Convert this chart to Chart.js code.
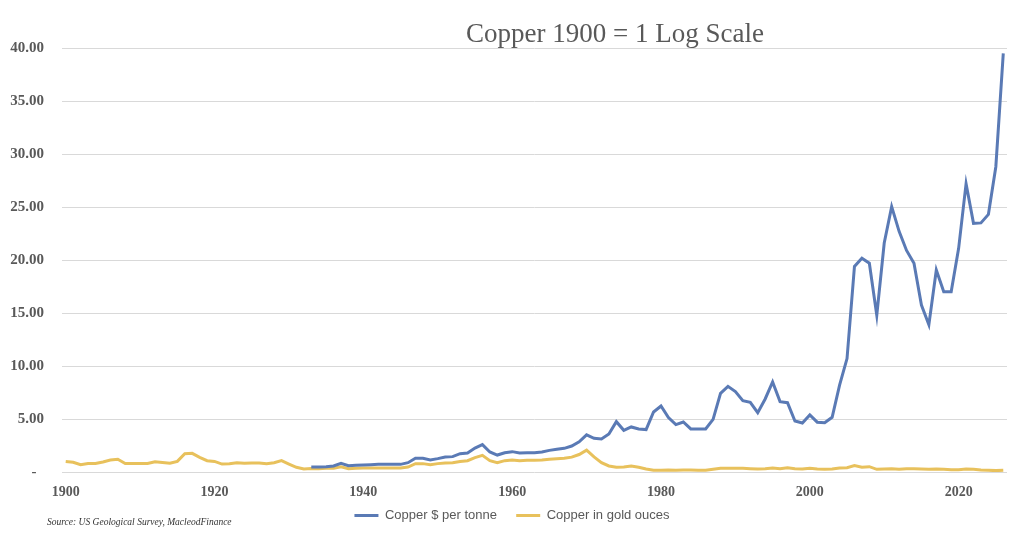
<!DOCTYPE html>
<html>
<head>
<meta charset="utf-8">
<script src="https://cdn.jsdelivr.net/npm/chart.js@4"></script>
<style>
  html, body { margin: 0; padding: 0; background: #ffffff; }
  #wrap { width: 1024px; height: 537px; position: relative; }
</style>
</head>
<body>
<div id="wrap"><canvas id="c" width="1024" height="537"></canvas></div>
<script>
// ---- Data ----
const titleText = "Copper 1900 = 1 Log Scale";
const sourceText = "Source: US Geological Survey, MacleodFinance";
const seriesNames = ["Copper $ per tonne", "Copper in gold ouces"];

const firstYear = 1900;
const lastYear = 2026;
const years = [];
for (let y = firstYear; y <= lastYear; y++) years.push(String(y));

const yTicks = [0, 5, 10, 15, 20, 25, 30, 35, 40];

// Copper $ per tonne (1900 = 1), no data before 1933
const copperUsd = [
  null, null, null, null, null, null, null, null, null, null,   // 1900s
  null, null, null, null, null, null, null, null, null, null,   // 1910s
  null, null, null, null, null, null, null, null, null, null,   // 1920s
  null, null, null, 0.47, 0.47, 0.50, 0.57, 0.82, 0.60, 0.63,   // 1930s
  0.66, 0.69, 0.72, 0.72, 0.72, 0.72, 0.88, 1.29, 1.29, 1.13,   // 1940s
  1.26, 1.42, 1.45, 1.73, 1.79, 2.26, 2.58, 1.89, 1.60, 1.82,   // 1950s
  1.92, 1.79, 1.82, 1.82, 1.89, 2.04, 2.14, 2.23, 2.45, 2.85,   // 1960s
  3.50, 3.18, 3.11, 3.58, 4.75, 3.93, 4.25, 4.06, 4.00, 5.66,   // 1970s
  6.23, 5.13, 4.47, 4.72, 4.06, 4.06, 4.06, 4.97, 7.42, 8.08,   // 1980s
  7.58, 6.73, 6.57, 5.60, 6.89, 8.49, 6.64, 6.54, 4.81, 4.62,   // 1990s
  5.38, 4.70, 4.65, 5.16, 8.20, 10.70, 19.40, 20.16, 19.70, 14.80, // 2000s
  21.60, 25.03, 22.70, 20.90, 19.70, 15.75, 13.90, 19.06, 17.00, 17.00, // 2010s
  21.10, 27.20, 23.46, 23.50, 24.30, 28.80, 39.50               // 2020s
];

// Copper priced in gold ounces (1900 = 1)
const copperGold = [
  1.00, 0.92, 0.68, 0.80, 0.80, 0.95, 1.13, 1.20, 0.80, 0.80,   // 1900s
  0.80, 0.80, 0.97, 0.90, 0.82, 1.00, 1.73, 1.76, 1.38, 1.07,   // 1910s
  1.00, 0.75, 0.78, 0.88, 0.82, 0.85, 0.85, 0.78, 0.88, 1.07,   // 1920s
  0.75, 0.44, 0.28, 0.32, 0.31, 0.35, 0.35, 0.50, 0.31, 0.35,   // 1930s
  0.38, 0.38, 0.38, 0.38, 0.38, 0.38, 0.47, 0.79, 0.79, 0.69,   // 1940s
  0.79, 0.85, 0.88, 1.00, 1.07, 1.35, 1.57, 1.07, 0.88, 1.07,   // 1950s
  1.13, 1.07, 1.10, 1.10, 1.13, 1.20, 1.26, 1.29, 1.40, 1.65,   // 1960s
  2.06, 1.42, 0.88, 0.57, 0.44, 0.47, 0.57, 0.44, 0.28, 0.16,   // 1970s
  0.16, 0.19, 0.16, 0.19, 0.19, 0.16, 0.16, 0.25, 0.35, 0.35,   // 1980s
  0.35, 0.35, 0.31, 0.28, 0.31, 0.38, 0.31, 0.41, 0.31, 0.28,   // 1990s
  0.35, 0.28, 0.25, 0.28, 0.38, 0.41, 0.60, 0.44, 0.50, 0.25,   // 2000s
  0.28, 0.31, 0.25, 0.31, 0.31, 0.28, 0.25, 0.28, 0.25, 0.22,   // 2010s
  0.22, 0.28, 0.25, 0.19, 0.16, 0.13, 0.16                      // 2020s
];

// ---- Styles ----
const blue = "#5A7AB5";
const gold = "#E8C15C";
const textGray = "#595959";
const gridGray = "#D9D9D9";

const overlayText = {
  id: "overlayText",
  afterDraw(chart) {
    const ctx = chart.ctx;
    ctx.save();
    ctx.fillStyle = textGray;
    ctx.font = "27px 'Liberation Serif', 'DejaVu Serif', serif";
    ctx.textAlign = "center";
    ctx.textBaseline = "alphabetic";
    ctx.fillText(titleText, 615, 42);
    ctx.fillStyle = "#333333";
    ctx.font = "italic 9.5px 'Liberation Serif', 'DejaVu Serif', serif";
    ctx.textAlign = "left";
    ctx.textBaseline = "middle";
    ctx.fillText(sourceText, 47, 522);
    ctx.restore();
  }
};

new Chart(document.getElementById("c"), {
  type: "line",
  data: {
    labels: years,
    datasets: [
      {
        label: seriesNames[0],
        data: copperUsd,
        borderColor: blue,
        backgroundColor: blue,
        borderWidth: 3,
        pointRadius: 0,
        tension: 0,
        fill: false
      },
      {
        label: seriesNames[1],
        data: copperGold,
        borderColor: gold,
        backgroundColor: gold,
        borderWidth: 3,
        pointRadius: 0,
        tension: 0,
        fill: false
      }
    ]
  },
  options: {
    responsive: false,
    animation: false,
    devicePixelRatio: 1,
    layout: { padding: { top: 48, right: 0, bottom: 5, left: 0 } },
    plugins: {
      title: { display: false },
      tooltip: { enabled: false },
      legend: {
        display: true,
        position: "bottom",
        labels: {
          usePointStyle: true,
          pointStyle: "line",
          pointStyleWidth: 24,
          boxHeight: 13,
          padding: 12,
          color: textGray,
          font: { family: "'Liberation Sans', Arial, sans-serif", size: 13 },
          generateLabels(chart) {
            const items = Chart.defaults.plugins.legend.labels.generateLabels(chart);
            items.forEach((it, i) => { if (i < items.length - 1) it.text = it.text + "  "; });
            return items;
          }
        }
      }
    },
    scales: {
      x: {
        type: "category",
        offset: true,
        grid: { display: false, drawTicks: false },
        border: { display: false },
        afterFit(s) { s.height = 25; },
        ticks: {
          autoSkip: false,
          maxRotation: 0,
          minRotation: 0,
          padding: 12,
          color: textGray,
          font: { family: "'Liberation Serif', 'DejaVu Serif', serif", size: 14, weight: "bold" },
          callback(value, index) {
            const yr = Number(years[index]);
            return yr % 20 === 0 ? String(yr) : "";
          }
        }
      },
      y: {
        min: 0,
        max: 40,
        afterFit(s) { s.width = 62; },
        afterBuildTicks(s) { s.ticks = yTicks.map(v => ({ value: v })); },
        grid: { color: gridGray, lineWidth: 1, drawTicks: false },
        border: { display: false },
        ticks: {
          padding: 18,
          color: textGray,
          font: { family: "'Liberation Serif', 'DejaVu Serif', serif", size: 15, weight: "bold" },
          callback(value) { return value === 0 ? "-  " : value.toFixed(2); }
        }
      },
      yRightSpace: {
        type: "linear",
        position: "right",
        display: true,
        min: 0,
        max: 40,
        grid: { display: false, drawTicks: false },
        border: { display: false },
        ticks: { display: false },
        afterFit(s) { s.width = 17; }
      }
    }
  },
  plugins: [overlayText]
});
</script>
</body>
</html>
